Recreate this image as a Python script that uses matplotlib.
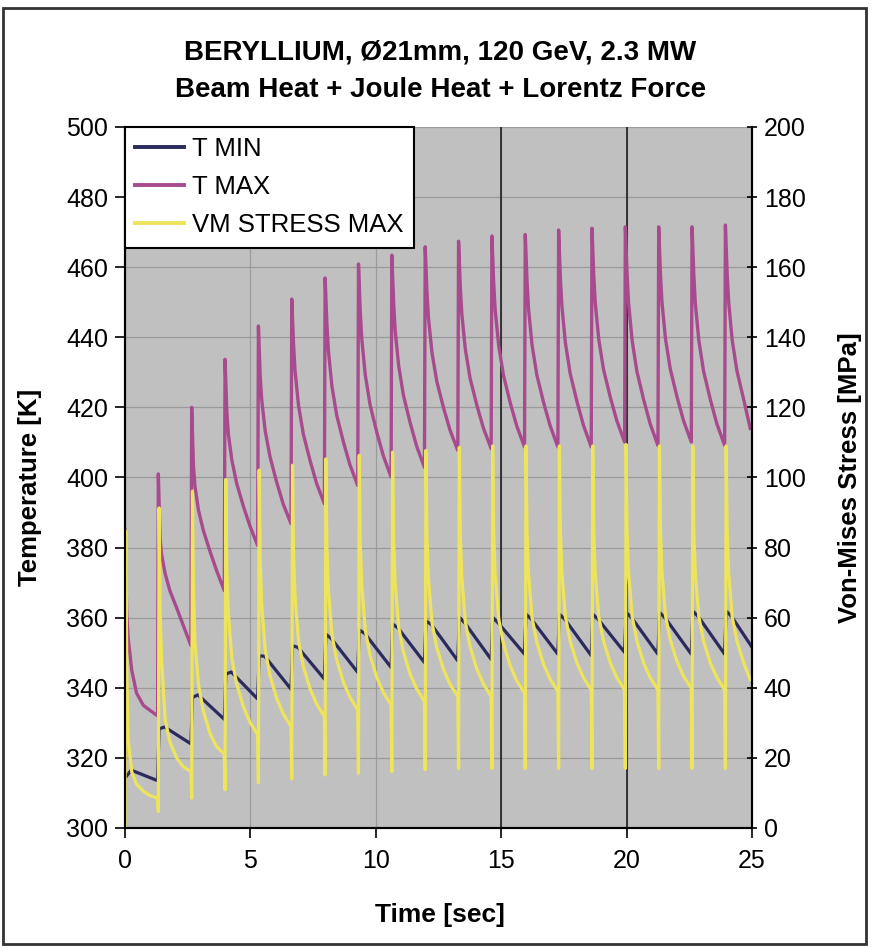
import matplotlib
matplotlib.use("Agg")
import matplotlib.pyplot as plt
from matplotlib.lines import Line2D
from matplotlib.patches import Rectangle

plt.rcParams['font.family'] = ['Liberation Sans', 'DejaVu Sans']

# beam pulse times [s]
pulse_times = [0, 1.33, 2.66, 3.99, 5.32, 6.65, 7.98, 9.31, 10.64, 11.97,
               13.30, 14.63, 15.96, 17.29, 18.62, 19.95, 21.28, 22.61, 23.94]

# sample times inside one cycle, measured from the pulse [s]
tmax_offsets = [0, 0.07, 0.13, 0.27, 0.46, 0.73, 0.99, 1.30]
tmin_offsets = [0.03, 0.25, 1.30]
stress_offsets = [0, 0.03, 0.07, 0.13, 0.27, 0.46, 0.73, 0.99, 1.30]

# T MAX [K], one row per cycle
tmax_cycles = [
    [385.0, 361.0, 354.0, 345.0, 338.5, 335.0, 333.6, 332.0],
    [401.0, 382.4, 378.0, 372.6, 367.7, 362.8, 357.9, 352.0],
    [420.0, 403.3, 397.5, 390.7, 385.0, 378.9, 373.5, 367.7],
    [433.7, 418.8, 412.5, 405.0, 398.4, 391.8, 386.2, 380.6],
    [443.2, 429.1, 422.3, 413.3, 406.0, 398.6, 392.4, 386.8],
    [450.9, 438.1, 430.5, 420.5, 412.4, 404.8, 398.3, 392.5],
    [456.9, 443.9, 436.2, 426.1, 417.8, 410.1, 403.6, 397.7],
    [460.9, 447.5, 439.6, 429.3, 420.8, 412.9, 406.2, 400.1],
    [463.4, 450.1, 442.2, 432.0, 423.5, 415.6, 408.9, 402.9],
    [465.8, 453.0, 445.5, 435.6, 427.5, 419.9, 413.5, 407.7],
    [467.4, 454.4, 446.7, 436.6, 428.3, 420.6, 414.1, 408.2],
    [468.9, 455.7, 447.8, 437.6, 429.2, 421.3, 414.7, 408.7],
    [469.3, 456.0, 448.1, 437.8, 429.3, 421.4, 414.8, 408.7],
    [470.6, 457.0, 448.9, 438.4, 429.7, 421.7, 414.9, 408.7],
    [471.1, 457.7, 449.8, 439.4, 430.8, 422.9, 416.2, 410.1],
    [471.5, 457.8, 449.7, 439.1, 430.3, 422.2, 415.3, 409.1],
    [471.5, 458.0, 450.0, 439.6, 431.0, 423.0, 416.2, 410.1],
    [471.5, 457.8, 449.7, 439.1, 430.3, 422.2, 415.3, 409.1],
    [472.0, 458.1, 450.0, 439.2, 430.4, 422.2, 414.0],
]

# T MIN [K]: start, after 0.25 s, end of cycle
tmin_cycles = [
    [314.5, 316.5, 313.5],
    [328.3, 328.8, 324.0],
    [337.2, 338.0, 331.0],
    [343.9, 344.5, 336.8],
    [349.1, 349.0, 339.6],
    [352.0, 351.5, 342.5],
    [355.3, 354.0, 344.4],
    [356.5, 355.5, 345.8],
    [358.2, 357.0, 347.2],
    [359.1, 358.0, 347.7],
    [360.1, 358.5, 348.1],
    [360.1, 358.5, 349.6],
    [361.0, 359.5, 349.6],
    [361.0, 359.5, 349.2],
    [361.0, 359.5, 350.1],
    [361.5, 360.0, 349.6],
    [361.5, 360.0, 349.6],
    [361.9, 360.3, 349.6],
    [361.9, 360.3, 349.0],
]

# VM STRESS MAX [MPa]: dip, peak, then decay
stress_cycles = [
    [0.0, 84.7, 45.0, 25.0, 16.0, 12.5, 10.5, 9.3, 8.5],
    [4.7, 91.3, 62.0, 48.0, 31.0, 24.5, 20.0, 17.5, 16.1],
    [8.5, 96.1, 68.0, 53.0, 41.0, 33.5, 27.0, 23.2, 21.1],
    [10.9, 99.4, 73.9, 61.5, 48.4, 41.2, 34.6, 30.2, 26.6],
    [12.9, 102.1, 76.5, 64.0, 50.9, 43.5, 37.0, 32.6, 28.9],
    [14.0, 103.5, 78.4, 66.2, 53.3, 46.1, 39.7, 35.4, 31.8],
    [15.1, 105.3, 80.2, 68.1, 55.2, 48.0, 41.6, 37.3, 33.7],
    [15.6, 106.3, 81.4, 69.3, 56.5, 49.3, 42.9, 38.7, 35.1],
    [16.1, 107.2, 82.3, 70.2, 57.4, 50.3, 43.9, 39.7, 36.1],
    [16.6, 107.7, 83.1, 71.2, 58.6, 51.5, 45.2, 41.0, 37.5],
    [17.0, 108.6, 83.7, 71.6, 58.8, 51.7, 45.3, 41.1, 37.5],
    [17.0, 109.0, 84.3, 72.3, 59.7, 52.6, 46.3, 42.0, 38.5],
    [17.0, 109.0, 84.5, 72.6, 60.0, 53.0, 46.7, 42.5, 39.0],
    [17.0, 109.0, 84.6, 72.8, 60.3, 53.3, 47.1, 42.9, 39.4],
    [17.0, 109.0, 84.6, 72.8, 60.3, 53.3, 47.1, 42.9, 39.4],
    [17.0, 109.4, 84.9, 73.0, 60.4, 53.4, 47.1, 42.9, 39.4],
    [17.0, 109.0, 84.8, 73.1, 60.6, 53.7, 47.5, 43.3, 39.9],
    [17.0, 109.0, 84.6, 72.8, 60.3, 53.3, 47.1, 42.9, 39.4],
    [17.0, 109.0, 84.6, 72.8, 60.3, 53.3, 47.1, 42.3],
]


def series(offsets, cycles):
    xs, ys = [], []
    for t0, vals in zip(pulse_times, cycles):
        for off, v in zip(offsets, vals):
            xs.append(t0 + off)
            ys.append(v)
    return xs, ys


c_min = '#2a2a5e'
c_max = '#a84a8e'
c_vm = '#eee45c'

fig = plt.figure(figsize=(8.82, 9.48), dpi=100)
ax = fig.add_axes([0.1417, 0.1266, 0.7109, 0.7395])
ax.set_facecolor('#c0c0c0')

ax.set_xlim(0, 25)
ax.set_ylim(300, 500)
ax.set_xticks(range(0, 26, 5))
ax.set_yticks(range(300, 501, 20))
ax.grid(True, color='#9a9a9a', lw=0.9)
for xv in (15, 20):
    ax.axvline(xv, color='#2a2a2a', lw=1.3, zorder=1)
ax.set_axisbelow(True)

x, y = series(tmin_offsets, tmin_cycles)
ax.plot(x, y, color=c_min, lw=2.3, zorder=3)
x, y = series(tmax_offsets, tmax_cycles)
ax.plot(x, y, color=c_max, lw=2.4, zorder=2)

ax2 = ax.twinx()
ax2.set_ylim(0, 200)
ax2.set_yticks(range(0, 201, 20))
x, y = series(stress_offsets, stress_cycles)
ax2.plot(x, y, color=c_vm, lw=2.3)

for a in (ax, ax2):
    a.spines['top'].set_visible(False)
    for s in ('left', 'right', 'bottom'):
        a.spines[s].set_linewidth(1.5)
        a.spines[s].set_color('black')

ax.tick_params(axis='both', labelsize=18, length=7, width=1.2, pad=5)
ax.tick_params(axis='x', pad=8)
ax2.tick_params(axis='y', labelsize=18, length=7, width=1.2, direction='inout', pad=5)

handles = [Line2D([], [], color=c_min, lw=2.8),
           Line2D([], [], color=c_max, lw=2.8),
           Line2D([], [], color=c_vm, lw=2.8)]
leg = ax2.legend(handles, ['T MIN', 'T MAX', 'VM STRESS MAX'], loc='upper left',
                 bbox_to_anchor=(0, 1), borderaxespad=0, fancybox=False,
                 framealpha=1, edgecolor='black', fontsize=18.5,
                 handlelength=1.9, handletextpad=0.3, labelspacing=0.55,
                 borderpad=0.4)
leg.get_frame().set_linewidth(1.5)

fig.text(0.499, 1 - 52 / 948, 'BERYLLIUM, Ø21mm, 120 GeV, 2.3 MW',
         ha='center', va='center', fontsize=20, weight='bold')
fig.text(0.499, 1 - 90 / 948, 'Beam Heat + Joule Heat + Lorentz Force',
         ha='center', va='center', fontsize=20, weight='bold')
fig.text(440 / 882, 1 - 915 / 948, 'Time [sec]', ha='center', va='center',
         fontsize=19, weight='bold')
fig.text(30 / 882, 1 - 487 / 948, 'Temperature [K]', ha='center', va='center',
         rotation=90, fontsize=18.5, weight='bold')
fig.text(850 / 882, 1 - 478 / 948, 'Von-Mises Stress [MPa]', ha='center',
         va='center', rotation=90, fontsize=18.5, weight='bold')

fig.add_artist(Rectangle((3 / 882, 4 / 948), 863 / 882, 936 / 948,
                         transform=fig.transFigure, fill=False,
                         edgecolor='#333333', lw=2))

fig.savefig('out.png', dpi=100)
